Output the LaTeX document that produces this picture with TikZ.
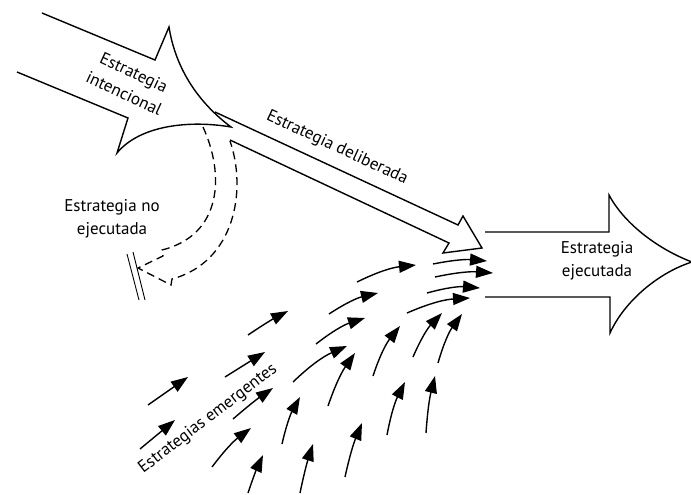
\documentclass[tikz,border=0pt]{standalone}
\usepackage{fontspec}
\setmainfont{PT Sans}
\usetikzlibrary{arrows.meta}
\begin{document}
\begin{tikzpicture}[x=1pt,y=-1pt,
  outline/.style={line width=1.4pt,line join=miter},
  dashline/.style={line width=1.3pt,dash pattern=on 8pt off 5pt},
  emerg/.style={line width=1.4pt,-{Triangle[length=17pt,width=12pt]}},
  lbl/.style={font=\fontsize{17}{23}\selectfont,align=center,inner sep=0pt}]
\useasboundingbox (0,0) rectangle (691,495);
% intended strategy arrow
\draw[outline] (42,13) -- (155,60) -- (169,27) .. controls (175,65) and (195,100) .. (231,127)
  .. controls (190,120) and (140,125) .. (117,153) -- (128,118) -- (17,72);
% deliberate strategy arrow
\draw[outline] (215,112) -- (458,225) -- (463,216) -- (482,248) -- (443,253) -- (449,243) -- (230,140);
% unrealized strategy (dashed)
\draw[dashline] (203,127) .. controls (225,175) and (222,235) .. (162,250) -- (163,256) -- (138,268)
  -- (171,285) -- (172,279) .. controls (235,262) and (247,190) .. (230,141);
\draw[line width=0.9pt] (127,254) -- (139,300) (133,252) -- (145,300);
% realized strategy arrow
\draw[outline] (485,232) -- (609,232) -- (609,195) .. controls (625,225) and (660,250) .. (692,262)
  .. controls (660,272) and (625,300) .. (610,333) -- (610,297) -- (485,297);
% emergent strategies
\foreach \ax/\ay/\bx/\by/\b in {
  148/405/188/377/0, 140/449/175/420/0, 225/377/265/352/0, 248/335/288/311/3,
  233/419/273/388/3, 212/467/251/428/8, 248/493/263/455/3, 282/444/300/397/8,
  293/382/347/346/10, 316/344/365/318/10, 329/314/378/293/10, 357/282/416/265/10,
  300/493/313/444/3, 328/406/355/353/8, 345/477/362/423/5, 373/376/400/326/10,
  387/435/405/382/8, 413/357/442/313/10, 426/433/435/376/5, 438/363/462/314/10,
  407/313/470/298/10, 427/293/480/288/10, 435/277/493/273/8, 433/264/487/261/8}
  \draw[emerg] (\ax,\ay) to[bend left=\b] (\bx,\by);
% labels
\node[lbl,rotate=-25] (ti) at (129,83) {Estrategia\\intencional};
\node[lbl,rotate=-25] (td) at (337,148) {Estrategia deliberada};
\node[lbl] (tn) at (112,219) {Estrategia no\\ejecutada};
\node[lbl] (tr) at (597,261) {Estrategia\\ejecutada};
\node[lbl,rotate=37.5] (te) at (208,419) {Estrategias emergentes};
\end{tikzpicture}
\end{document}
